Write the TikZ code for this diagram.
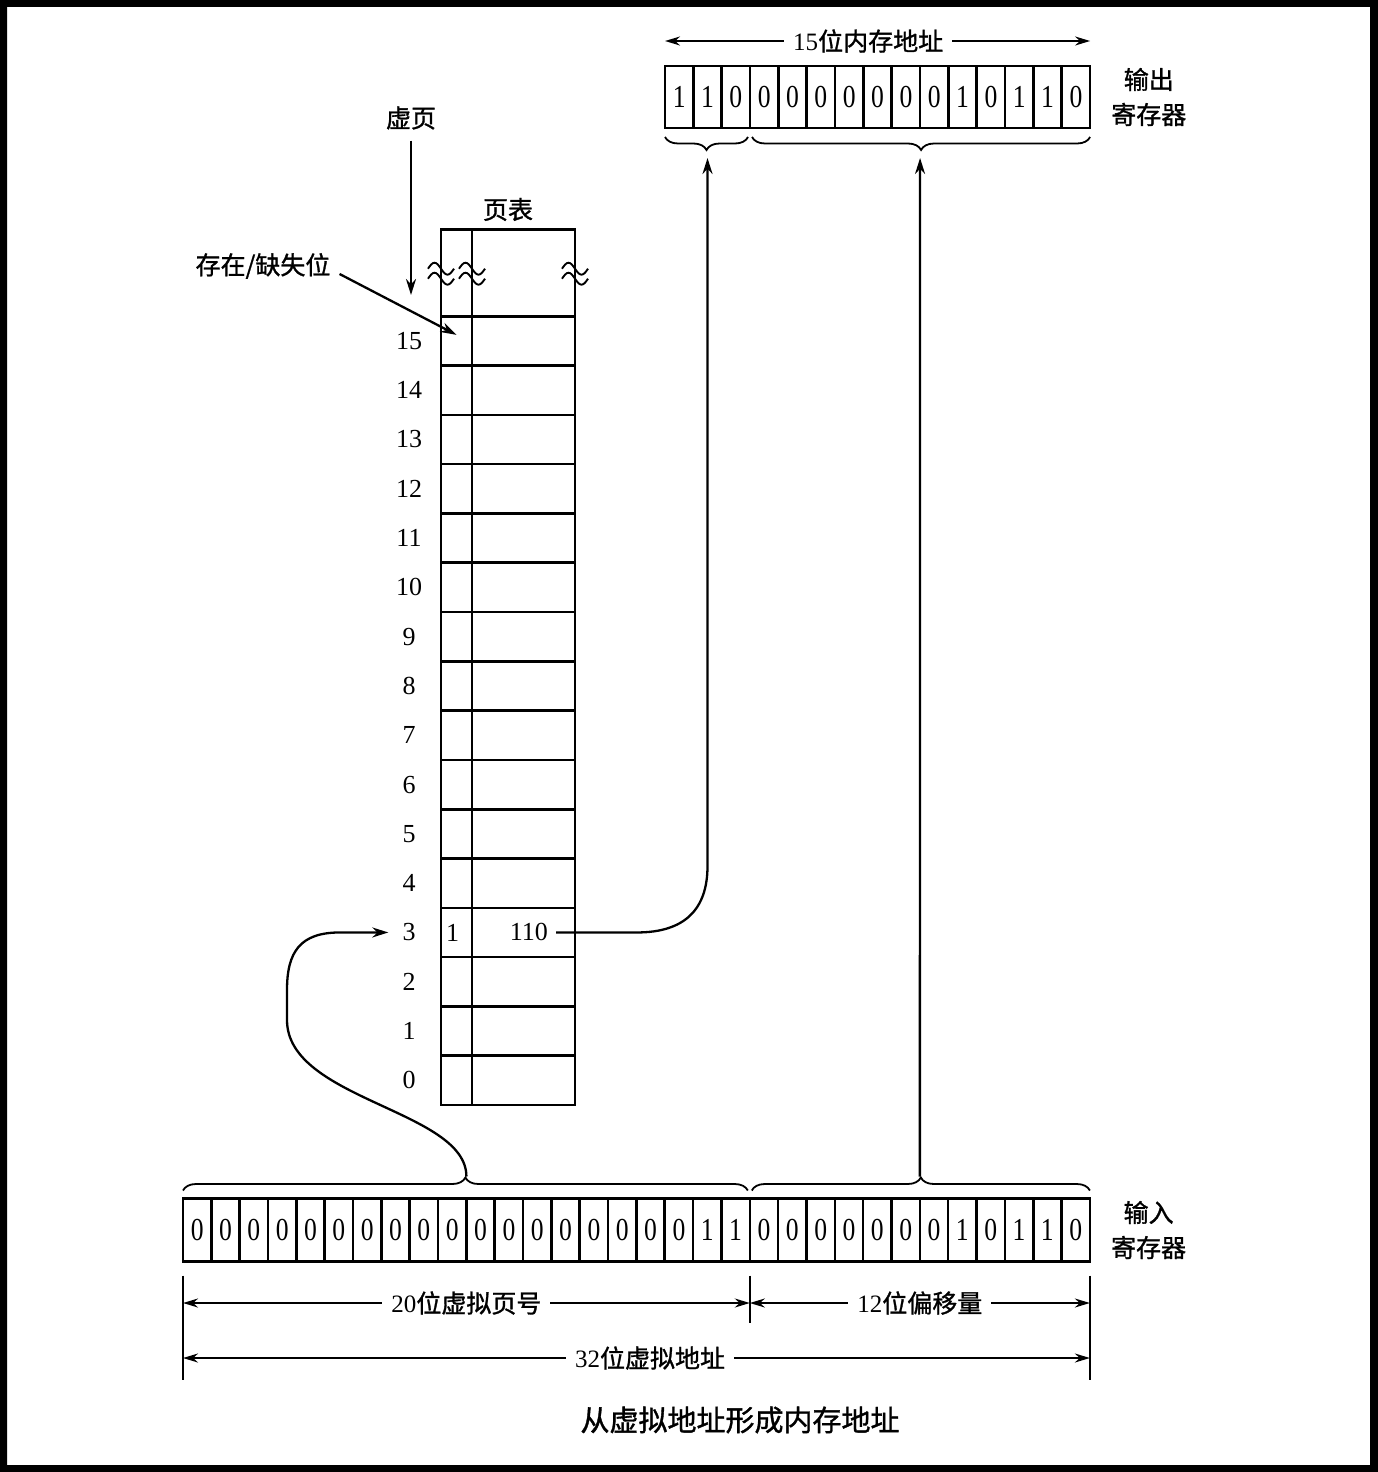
\documentclass[tikz,border=0pt]{standalone}
\usepackage{fontspec}
\setmainfont{Liberation Serif}
\newfontfamily\cjk{Noto Sans CJK SC}[FakeBold=1.2]
\newfontfamily\bitfont{Liberation Serif}[FakeStretch=0.8]
\usetikzlibrary{arrows.meta, positioning, calc, decorations.pathreplacing}

\begin{document}
\begin{tikzpicture}[
  x=1pt, y=-1pt,
  bitCell/.style={
    draw, line width=2.6pt, minimum width=28.34pt, minimum height=63pt,
    inner sep=0pt, outer sep=0pt, font=\bitfont\fontsize{32}{32}\selectfont
  },
  ptCell/.style={draw, line width=2.6pt, minimum height=49.3pt, inner sep=0pt, outer sep=0pt},
  rowNum/.style={font=\fontsize{26}{26}\selectfont, inner sep=2pt},
  lbl/.style={font=\cjk\fontsize{25}{35}\selectfont, inner sep=1pt, align=center},
  dimLbl/.style={lbl, fill=white, inner xsep=9pt, inner ysep=2pt},
  arr/.style={-{Stealth[length=16pt, width=10pt]}, line width=2.3pt},
  dimArr/.style={{Stealth[length=15pt, width=9pt]}-{Stealth[length=15pt, width=9pt]}, line width=2pt},
  tick/.style={line width=1.5pt},
  regBrace/.style={decorate, decoration={brace, amplitude=13pt}, line width=1.8pt},
  brkMark/.pic={
    \draw[line width=1.9pt] (-13,-4) sin (-6.5,-10) cos (0,-4) sin (6.5,2) cos (13,-4);
    \draw[line width=1.9pt] (-13,6) sin (-6.5,0) cos (0,6) sin (6.5,12) cos (13,6);
  }
]
\useasboundingbox (0,0) rectangle (1378,1472);
\fill[even odd rule] (0,0) rectangle (1378,1472) (7,7) rectangle (1370,1465);

\foreach \b [count=\i] in {0,0,0,0,0,0,0,0,0,0,0,0,0,0,0,0,0,0,1,1,0,0,0,0,0,0,0,1,0,1,1,0}
  \node[bitCell] (in\i) at ({183+28.34*(\i-0.5)}, 1230) {\b};

\foreach \b [count=\i] in {1,1,0,0,0,0,0,0,0,0,1,0,1,1,0}
  \node[bitCell, minimum height=62pt] (out\i) at ({665+28.34*(\i-0.5)}, 97) {\b};

\foreach \r in {0,...,15} {
  \node[ptCell, minimum width=31pt] (pb\r) at (456.5, {1105-49.3*(\r+0.5)}) {};
  \node[ptCell, minimum width=103pt, right=0pt of pb\r] (pf\r) {};
  \node[rowNum] (rn\r) at (409, {1105-49.3*(\r+0.5)}) {\r};
}

\node[draw, line width=2.6pt, minimum width=134pt, minimum height=87pt,
  inner sep=0pt, outer sep=0pt, anchor=south west] (ptTop) at (pb15.north west) {};
\draw[line width=2.6pt] (pb15.north east) -- (pb15.north east |- ptTop.north);
\pic at (ptTop.west) {brkMark};
\pic at (pb15.east |- ptTop.west) {brkMark};
\pic at (ptTop.east) {brkMark};

\node[rowNum, anchor=west] (pbVal) at ([xshift=3pt]pb3.west) {1};
\node[rowNum, anchor=east] (pfVal) at ([xshift=-25pt]pf3.east) {110};

\node[lbl, above=7pt of ptTop] (ptName) {页表};
\node[lbl] (vpName) at (411,118) {虚页};
\coordinate (vpEnd) at (411,295);
\draw[arr, shorten <=10pt] (vpName) -- (vpEnd);
\node[lbl] (presName) at (263,266) {存在/缺失位};
\draw[arr] ([xshift=8pt, yshift=-8pt]presName.east) -- ([yshift=6pt]pb15.center);

\draw[regBrace] ([yshift=8pt]in1.north west) -- ([xshift=-2pt, yshift=8pt]in20.north east);
\draw[regBrace] ([xshift=2pt, yshift=8pt]in21.north west) -- ([yshift=8pt]in32.north east);
\draw[regBrace] ([yshift=-9pt]out15.south east) -- ([xshift=2pt, yshift=-9pt]out4.south west);
\draw[regBrace] ([xshift=-2pt, yshift=-9pt]out3.south east) -- ([yshift=-9pt]out1.south west);

\path ($(in1.north west)!0.5!(in20.north east)$) ++(0,-22) coordinate (pageTip);
\path ($(in21.north west)!0.5!(in32.north east)$) ++(0,-22) coordinate (offTip);
\path ($(out1.south west)!0.5!(out3.south east)$) ++(0,30) coordinate (frameTip);
\path ($(out4.south west)!0.5!(out15.south east)$) ++(0,30) coordinate (outOffTip);

\draw[arr] (pageTip) .. controls (466.4,1110) and (287,1100) .. (287,1020)
  -- (287,990) .. controls (287,952) and (300,932.45) .. (340,932.45)
  -- ([xshift=-12pt]rn3.west);
\draw[arr] ([xshift=6pt]pfVal.east) -- (637,932.45)
  .. controls (684,932.45) and (707.5,910) .. (707.5,866) -- (frameTip);
\draw[arr] (offTip) -- (outOffTip);

\draw[tick] ([yshift=-14pt]in1.south west) coordinate (tickL) -- ++(0,104);
\draw[tick] ([yshift=-14pt]in20.south east) coordinate (tickM) -- ++(0,47);
\draw[tick] ([yshift=-14pt]in32.south east) coordinate (tickR) -- ++(0,104);
\draw[dimArr] (tickL |- 0,1303) -- (tickM |- 0,1303)
  node[dimLbl, midway] (pageLen) {{\rmfamily 20}位虚拟页号};
\draw[dimArr] (tickM |- 0,1303) -- (tickR |- 0,1303)
  node[dimLbl, midway] (offLen) {{\rmfamily 12}位偏移量};
\draw[dimArr] (tickL |- 0,1358) -- (tickR |- 0,1358)
  node[dimLbl, pos=0.515] (addrLen) {{\rmfamily 32}位虚拟地址};
\draw[dimArr] (out1.north west |- 0,41) -- (out15.north east |- 0,41)
  node[dimLbl, pos=0.478] (memLen) {{\rmfamily 15}位内存地址};

\node[lbl, right=20pt of out15] (outName) {输出\\寄存器};
\node[lbl, right=20pt of in32] (inName) {输入\\寄存器};
\node[lbl, font=\cjk\fontsize{29}{29}\selectfont] (caption) at (740,1420) {从虚拟地址形成内存地址};
\end{tikzpicture}
\end{document}
